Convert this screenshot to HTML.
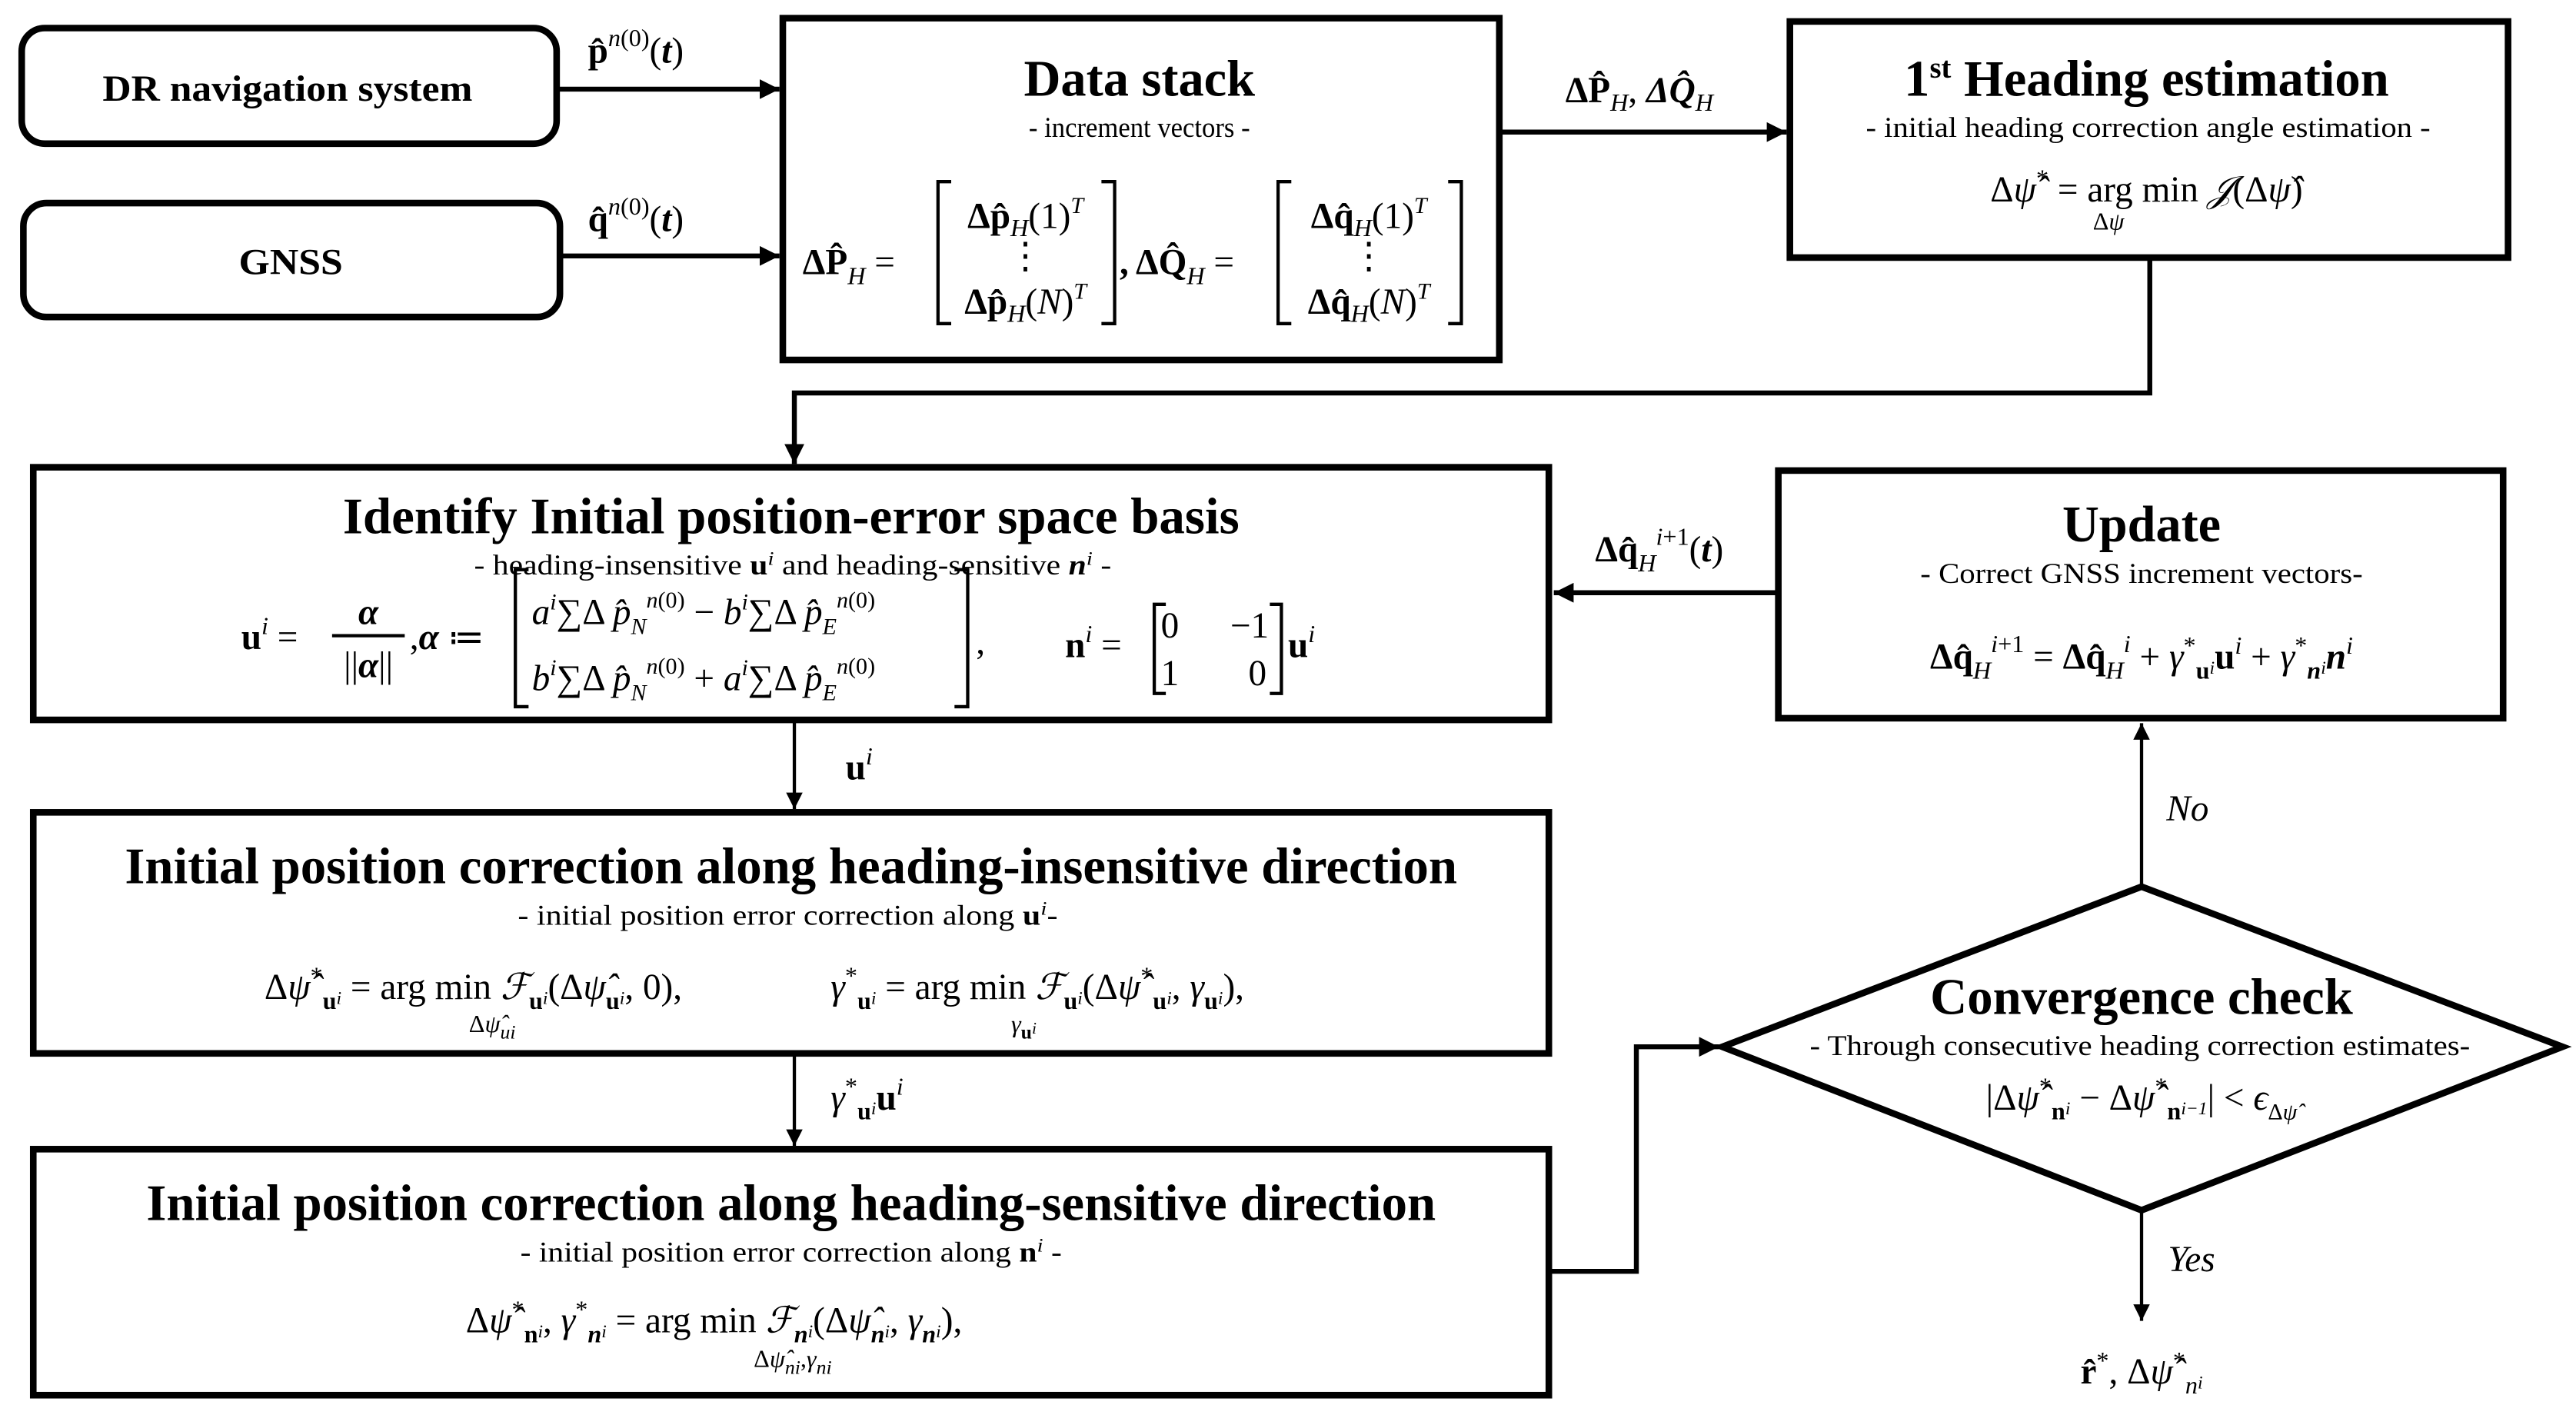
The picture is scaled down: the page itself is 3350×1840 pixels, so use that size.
<!DOCTYPE html>
<html><head><meta charset="utf-8"><style>
html,body{margin:0;padding:0;background:#fff;}
svg{display:block;}
text{font-family:"Liberation Serif",serif;fill:#000;}
.t{font-weight:bold;font-size:31px;}
.s{font-size:17px;}
.m{font-size:22px;}
.b{font-weight:bold;}
.i{font-style:italic;}
</style></head><body>
<svg width="3350" height="1840" viewBox="0 0 1560 857" xmlns="http://www.w3.org/2000/svg">
<defs>
<marker id="ah" viewBox="0 0 10 10" refX="10" refY="5" markerWidth="4" markerHeight="4" orient="auto" markerUnits="strokeWidth"><path d="M0,0 L10,5 L0,10 z" fill="#000"/></marker>
<marker id="ah2" viewBox="0 0 10 10" refX="10" refY="5" markerWidth="5" markerHeight="6" orient="auto" markerUnits="strokeWidth"><path d="M0,0 L10,5 L0,10 z" fill="#000"/></marker>
</defs>
<g fill="none" stroke="#000">
<rect x="13" y="17" width="324" height="70" rx="14" stroke-width="4"/>
<rect x="14" y="123" width="325" height="69" rx="14" stroke-width="4"/>
<rect x="474" y="11" width="434" height="207" stroke-width="4"/>
<rect x="1084" y="13" width="435" height="143" stroke-width="4"/>
<rect x="20" y="283" width="918" height="153" stroke-width="4"/>
<rect x="1077" y="285" width="439" height="150" stroke-width="4"/>
<rect x="20" y="492" width="918" height="146" stroke-width="4"/>
<rect x="20" y="696" width="918" height="149" stroke-width="4"/>
<polygon points="1043,634 1297,537 1552,634 1297,733" stroke-width="4"/>
<line x1="337" y1="54" x2="472" y2="54" stroke-width="3" marker-end="url(#ah)"/>
<line x1="339" y1="155" x2="472" y2="155" stroke-width="3" marker-end="url(#ah)"/>
<line x1="908" y1="80" x2="1082" y2="80" stroke-width="3" marker-end="url(#ah)"/>
<polyline points="1302,156 1302,238 481,238 481,281" stroke-width="3" marker-end="url(#ah)"/>
<line x1="1077" y1="359" x2="941" y2="359" stroke-width="3" marker-end="url(#ah)"/>
<line x1="481" y1="436" x2="481" y2="490" stroke-width="2" marker-end="url(#ah2)"/>
<line x1="481" y1="638" x2="481" y2="694" stroke-width="2" marker-end="url(#ah2)"/>
<polyline points="938,770 991,770 991,634 1041,634" stroke-width="3" marker-end="url(#ah)"/>
<line x1="1297" y1="537" x2="1297" y2="438" stroke-width="2" marker-end="url(#ah2)"/>
<line x1="1297" y1="733" x2="1297" y2="800" stroke-width="2" marker-end="url(#ah2)"/>
<!-- data stack brackets -->
<path d="M576,110 H568 V196 H576" stroke-width="2"/>
<path d="M667,110 H675 V196 H667" stroke-width="2"/>
<path d="M782,110 H774 V196 H782" stroke-width="2"/>
<path d="M877,110 H885 V196 H877" stroke-width="2"/>
<!-- identify brackets -->
<path d="M320,345 H312 V428 H320" stroke-width="2"/>
<path d="M578,345 H586 V428 H578" stroke-width="2"/>
<path d="M706,366 H699 V420 H706" stroke-width="2"/>
<path d="M769,366 H776 V420 H769" stroke-width="2"/>
<line x1="201" y1="385" x2="245" y2="385" stroke-width="2"/>
</g>

<!-- left inputs -->
<text class="b" x="174" y="61" text-anchor="middle" font-size="22" textLength="224" lengthAdjust="spacingAndGlyphs">DR navigation system</text>
<text class="b" x="176" y="166" text-anchor="middle" font-size="22" textLength="63" lengthAdjust="spacingAndGlyphs">GNSS</text>
<text class="m" x="356" y="38"><tspan class="b">p̂</tspan><tspan class="i" font-size="15" dy="-10">n</tspan><tspan font-size="15">(0)</tspan><tspan dy="10">(</tspan><tspan class="b i">t</tspan>)</text>
<text class="m" x="356" y="140"><tspan class="b">q̂</tspan><tspan class="i" font-size="15" dy="-10">n</tspan><tspan font-size="15">(0)</tspan><tspan dy="10">(</tspan><tspan class="b i">t</tspan>)</text>

<!-- data stack -->
<text class="t" x="690" y="58" text-anchor="middle" textLength="140" lengthAdjust="spacingAndGlyphs">Data stack</text>
<text class="s" x="690" y="83" text-anchor="middle" textLength="134" lengthAdjust="spacingAndGlyphs">- increment vectors -</text>
<text class="m" x="486" y="166"><tspan class="b">ΔP̂</tspan><tspan class="i" font-size="15" dy="6">H</tspan><tspan dy="-6"> =</tspan></text>
<text class="m" x="621" y="138" text-anchor="middle"><tspan class="b">Δp̂</tspan><tspan class="i" font-size="15" dy="5">H</tspan><tspan dy="-5">(1)</tspan><tspan class="i" font-size="14" dy="-9">T</tspan></text>
<text class="m" x="621" y="162" text-anchor="middle">⋮</text>
<text class="m" x="621" y="190" text-anchor="middle"><tspan class="b">Δp̂</tspan><tspan class="i" font-size="15" dy="5">H</tspan><tspan dy="-5">(</tspan><tspan class="i">N</tspan>)<tspan class="i" font-size="14" dy="-9">T</tspan></text>
<text class="m" x="678" y="166"><tspan class="b">, ΔQ̂</tspan><tspan class="i" font-size="15" dy="6">H</tspan><tspan dy="-6"> =</tspan></text>
<text class="m" x="829" y="138" text-anchor="middle"><tspan class="b">Δq̂</tspan><tspan class="i" font-size="15" dy="5">H</tspan><tspan dy="-5">(1)</tspan><tspan class="i" font-size="14" dy="-9">T</tspan></text>
<text class="m" x="829" y="162" text-anchor="middle">⋮</text>
<text class="m" x="829" y="190" text-anchor="middle"><tspan class="b">Δq̂</tspan><tspan class="i" font-size="15" dy="5">H</tspan><tspan dy="-5">(</tspan><tspan class="i">N</tspan>)<tspan class="i" font-size="14" dy="-9">T</tspan></text>

<text class="m" x="948" y="62"><tspan class="b">ΔP̂</tspan><tspan class="i" font-size="15" dy="5">H</tspan><tspan dy="-5">, </tspan><tspan class="b i">ΔQ̂</tspan><tspan class="i" font-size="15" dy="5">H</tspan></text>

<!-- heading -->
<text class="t" x="1300" y="58" text-anchor="middle">1<tspan font-size="18" dy="-11">st</tspan><tspan dy="11"> Heading estimation</tspan></text>
<text class="s" x="1301" y="83" text-anchor="middle" textLength="342" lengthAdjust="spacingAndGlyphs">- initial heading correction angle estimation -</text>
<text class="m" x="1300" y="122" text-anchor="middle">Δ<tspan class="i">ψ̂</tspan><tspan font-size="15" dy="-9">*</tspan><tspan dy="9"> = arg min </tspan><tspan class="i">𝒥</tspan>(Δ<tspan class="i">ψ̂</tspan>)</text>
<text x="1277" y="139" text-anchor="middle" font-size="15">Δ<tspan class="i">ψ</tspan></text>

<!-- identify -->
<text class="t" x="479" y="323" text-anchor="middle" textLength="543" lengthAdjust="spacingAndGlyphs">Identify Initial position-error space basis</text>
<text class="s" x="480" y="348" text-anchor="middle" textLength="386" lengthAdjust="spacingAndGlyphs">- heading-insensitive <tspan class="b">u</tspan><tspan class="i" font-size="12" dy="-6">i</tspan><tspan dy="6"> and heading-sensitive </tspan><tspan class="b i">n</tspan><tspan class="i" font-size="12" dy="-6">i</tspan><tspan dy="6"> -</tspan></text>
<text class="m" x="146" y="393"><tspan class="b">u</tspan><tspan class="i" font-size="15" dy="-9">i</tspan><tspan dy="9"> =</tspan></text>
<text class="m b i" x="223" y="378" text-anchor="middle">α</text>
<text class="m" x="223" y="410" text-anchor="middle">||<tspan class="b i">α</tspan>||</text>
<text class="m" x="248" y="393">,<tspan class="b i">α</tspan> ≔</text>
<text class="m" x="322" y="378"><tspan class="i">a</tspan><tspan class="i" font-size="14" dy="-9">i</tspan><tspan dy="9">∑Δ </tspan><tspan class="i">p̂</tspan><tspan class="i" font-size="14" dy="6">N</tspan><tspan class="i" font-size="14" dy="-16">n</tspan><tspan font-size="14">(0)</tspan><tspan dy="10"> − </tspan><tspan class="i">b</tspan><tspan class="i" font-size="14" dy="-9">i</tspan><tspan dy="9">∑Δ </tspan><tspan class="i">p̂</tspan><tspan class="i" font-size="14" dy="6">E</tspan><tspan class="i" font-size="14" dy="-16">n</tspan><tspan font-size="14">(0)</tspan></text>
<text class="m" x="322" y="418"><tspan class="i">b</tspan><tspan class="i" font-size="14" dy="-9">i</tspan><tspan dy="9">∑Δ </tspan><tspan class="i">p̂</tspan><tspan class="i" font-size="14" dy="6">N</tspan><tspan class="i" font-size="14" dy="-16">n</tspan><tspan font-size="14">(0)</tspan><tspan dy="10"> + </tspan><tspan class="i">a</tspan><tspan class="i" font-size="14" dy="-9">i</tspan><tspan dy="9">∑Δ </tspan><tspan class="i">p̂</tspan><tspan class="i" font-size="14" dy="6">E</tspan><tspan class="i" font-size="14" dy="-16">n</tspan><tspan font-size="14">(0)</tspan></text>
<text class="m" x="591" y="396">,</text>
<text class="m" x="645" y="398"><tspan class="b">n</tspan><tspan class="i" font-size="15" dy="-9">i</tspan><tspan dy="9"> =</tspan></text>
<text class="m" x="703" y="386">0</text><text class="m" x="745" y="386">−1</text>
<text class="m" x="703" y="415">1</text><text class="m" x="756" y="415">0</text>
<text class="m" x="780" y="398"><tspan class="b">u</tspan><tspan class="i" font-size="15" dy="-9">i</tspan></text>

<text class="m" x="966" y="340"><tspan class="b">Δq̂</tspan><tspan class="i" font-size="15" dy="6">H</tspan><tspan class="i" font-size="15" dy="-16">i</tspan><tspan font-size="15">+1</tspan><tspan dy="10">(</tspan><tspan class="b i">t</tspan>)</text>

<!-- update -->
<text class="t" x="1297" y="328" text-anchor="middle" textLength="96" lengthAdjust="spacingAndGlyphs">Update</text>
<text class="s" x="1297" y="353" text-anchor="middle" textLength="268" lengthAdjust="spacingAndGlyphs">- Correct GNSS increment vectors-</text>
<text class="m" x="1297" y="405" text-anchor="middle"><tspan class="b">Δq̂</tspan><tspan class="i" font-size="15" dy="6">H</tspan><tspan class="i" font-size="15" dy="-16">i</tspan><tspan font-size="15">+1</tspan><tspan dy="10"> = </tspan><tspan class="b">Δq̂</tspan><tspan class="i" font-size="15" dy="6">H</tspan><tspan class="i" font-size="15" dy="-16">i</tspan><tspan dy="10"> + </tspan><tspan class="i">γ</tspan><tspan font-size="15" dy="-9">*</tspan><tspan class="b" font-size="15" dy="15">u</tspan><tspan class="i" font-size="11" dy="-3">i</tspan><tspan class="b" dy="-3">u</tspan><tspan class="i" font-size="15" dy="-9">i</tspan><tspan dy="9"> + </tspan><tspan class="i">γ</tspan><tspan font-size="15" dy="-9">*</tspan><tspan class="b i" font-size="15" dy="15">n</tspan><tspan class="i" font-size="11" dy="-3">i</tspan><tspan class="b i" dy="-3">n</tspan><tspan class="i" font-size="15" dy="-9">i</tspan></text>

<!-- arrows labels -->
<text class="m" x="512" y="472"><tspan class="b">u</tspan><tspan class="i" font-size="15" dy="-9">i</tspan></text>
<text class="m" x="503" y="672"><tspan class="i">γ</tspan><tspan font-size="15" dy="-9">*</tspan><tspan class="b" font-size="15" dy="15">u</tspan><tspan class="i" font-size="11" dy="-3">i</tspan><tspan class="b" dy="-3">u</tspan><tspan class="i" font-size="15" dy="-9">i</tspan></text>
<text class="m i" x="1312" y="497">No</text>
<text class="m i" x="1313" y="770">Yes</text>
<text class="m" x="1297" y="838" text-anchor="middle"><tspan class="b">r̂</tspan><tspan font-size="15" dy="-9">*</tspan><tspan dy="9">, Δ</tspan><tspan class="i">ψ̂</tspan><tspan font-size="15" dy="-9">*</tspan><tspan class="i" font-size="15" dy="15">n</tspan><tspan class="i" font-size="11" dy="-3">i</tspan></text>

<!-- box3 -->
<text class="t" x="479" y="535" text-anchor="middle" textLength="807" lengthAdjust="spacingAndGlyphs">Initial position correction along heading-insensitive direction</text>
<text class="s" x="477" y="560" text-anchor="middle" textLength="327" lengthAdjust="spacingAndGlyphs">- initial position error correction along <tspan class="b">u</tspan><tspan class="i" font-size="12" dy="-6">i</tspan><tspan dy="6">-</tspan></text>
<text class="m" x="160" y="605">Δ<tspan class="i">ψ̂</tspan><tspan font-size="15" dy="-9">*</tspan><tspan class="b" font-size="15" dy="15">u</tspan><tspan class="i" font-size="11" dy="-3">i</tspan><tspan dy="-3"> = arg min </tspan><tspan class="i">ℱ</tspan><tspan class="b" font-size="15" dy="6">u</tspan><tspan class="i" font-size="11" dy="-3">i</tspan><tspan dy="-3">(Δ</tspan><tspan class="i">ψ̂</tspan><tspan class="b" font-size="15" dy="6">u</tspan><tspan class="i" font-size="11" dy="-3">i</tspan><tspan dy="-3">, 0),</tspan></text>
<text x="298" y="625" text-anchor="middle" font-size="15">Δ<tspan class="i">ψ̂</tspan><tspan class="i" font-size="12" dy="4">ui</tspan></text>
<text class="m" x="503" y="605"><tspan class="i">γ</tspan><tspan font-size="15" dy="-9">*</tspan><tspan class="b" font-size="15" dy="15">u</tspan><tspan class="i" font-size="11" dy="-3">i</tspan><tspan dy="-3"> = arg min </tspan><tspan class="i">ℱ</tspan><tspan class="b" font-size="15" dy="6">u</tspan><tspan class="i" font-size="11" dy="-3">i</tspan><tspan dy="-3">(Δ</tspan><tspan class="i">ψ̂</tspan><tspan font-size="15" dy="-9">*</tspan><tspan class="b" font-size="15" dy="15">u</tspan><tspan class="i" font-size="11" dy="-3">i</tspan><tspan dy="-3">, </tspan><tspan class="i">γ</tspan><tspan class="b" font-size="15" dy="6">u</tspan><tspan class="i" font-size="11" dy="-3">i</tspan><tspan dy="-3">),</tspan></text>
<text x="620" y="625" text-anchor="middle" font-size="15"><tspan class="i">γ</tspan><tspan class="b" font-size="12" dy="4">u</tspan><tspan class="i" font-size="10" dy="-3">i</tspan></text>

<!-- box4 -->
<text class="t" x="479" y="739" text-anchor="middle" textLength="781" lengthAdjust="spacingAndGlyphs">Initial position correction along heading-sensitive direction</text>
<text class="s" x="479" y="764" text-anchor="middle" textLength="328" lengthAdjust="spacingAndGlyphs">- initial position error correction along <tspan class="b">n</tspan><tspan class="i" font-size="12" dy="-6">i</tspan><tspan dy="6"> -</tspan></text>
<text class="m" x="282" y="807">Δ<tspan class="i">ψ̂</tspan><tspan font-size="15" dy="-9">*</tspan><tspan class="b" font-size="15" dy="15">n</tspan><tspan class="i" font-size="11" dy="-3">i</tspan><tspan dy="-3">, </tspan><tspan class="i">γ</tspan><tspan font-size="15" dy="-9">*</tspan><tspan class="b i" font-size="15" dy="15">n</tspan><tspan class="i" font-size="11" dy="-3">i</tspan><tspan dy="-3"> = arg   min    </tspan><tspan class="i">ℱ</tspan><tspan class="b i" font-size="15" dy="6">n</tspan><tspan class="i" font-size="11" dy="-3">i</tspan><tspan dy="-3">(Δ</tspan><tspan class="i">ψ̂</tspan><tspan class="b i" font-size="15" dy="6">n</tspan><tspan class="i" font-size="11" dy="-3">i</tspan><tspan dy="-3">, </tspan><tspan class="i">γ</tspan><tspan class="b i" font-size="15" dy="6">n</tspan><tspan class="i" font-size="11" dy="-3">i</tspan><tspan dy="-3">),</tspan></text>
<text x="480" y="828" text-anchor="middle" font-size="15">Δ<tspan class="i">ψ̂</tspan><tspan class="i" font-size="12" dy="4">ni</tspan><tspan dy="-4">,</tspan><tspan class="i">γ</tspan><tspan class="i" font-size="12" dy="4">ni</tspan></text>

<!-- convergence -->
<text class="t" x="1297" y="614" text-anchor="middle" textLength="256" lengthAdjust="spacingAndGlyphs">Convergence check</text>
<text class="s" x="1296" y="639" text-anchor="middle" textLength="400" lengthAdjust="spacingAndGlyphs">- Through consecutive heading correction estimates-</text>
<text class="m" x="1297" y="672" text-anchor="middle">|Δ<tspan class="i">ψ̂</tspan><tspan font-size="15" dy="-9">*</tspan><tspan class="b" font-size="15" dy="15">n</tspan><tspan class="i" font-size="11" dy="-3">i</tspan><tspan dy="-3"> − Δ</tspan><tspan class="i">ψ̂</tspan><tspan font-size="15" dy="-9">*</tspan><tspan class="b" font-size="15" dy="15">n</tspan><tspan class="i" font-size="11" dy="-3">i−1</tspan><tspan dy="-3">| &lt; </tspan><tspan class="i">ϵ</tspan><tspan font-size="14" dy="6">Δ</tspan><tspan class="i" font-size="14">ψ̂</tspan></text>
</svg>
</body></html>
